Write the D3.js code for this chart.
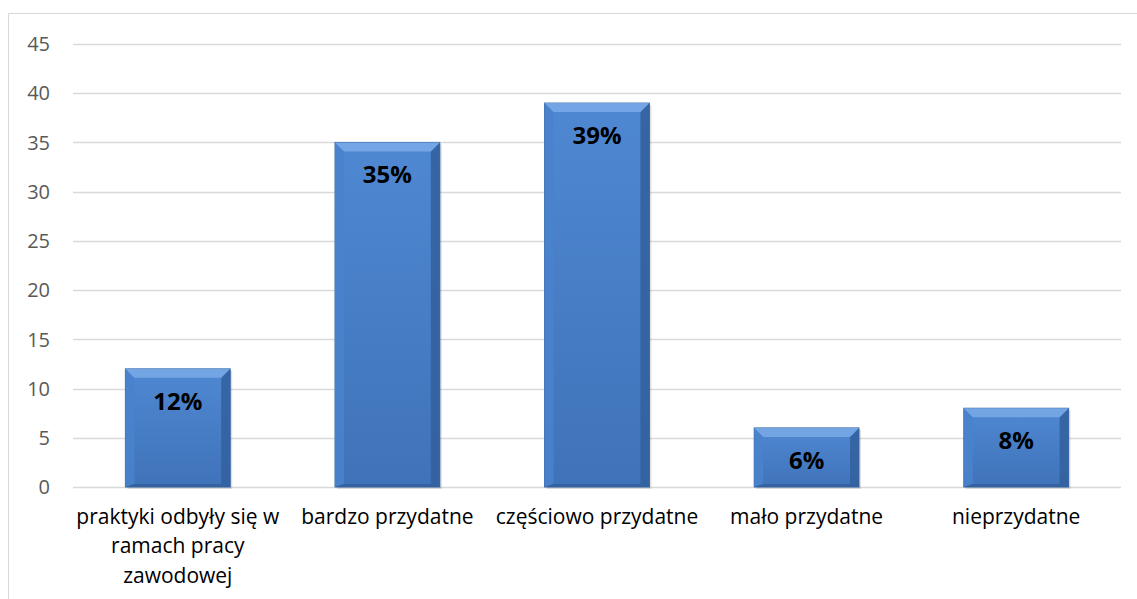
<!DOCTYPE html>
<html>
<head>
<meta charset="utf-8">
<script src="https://cdn.jsdelivr.net/npm/d3@7"></script>
<style>
  body { margin: 0; background: #fff; }
  svg { display: block; }
  text { font-family: "Open Sans", sans-serif; }
</style>
</head>
<body>
<svg id="chart" width="1137" height="599"></svg>
<script>
const categories = [
    'praktyki odbyły się w ramach pracy zawodowej',
    'bardzo przydatne',
    'częściowo przydatne',
    'mało przydatne',
    'nieprzydatne'
];
const values = [12, 35, 39, 6, 8];
const barLabels = ['12%', '35%', '39%', '6%', '8%'];
const yTicks = [0, 5, 10, 15, 20, 25, 30, 35, 40, 45];

const svg = d3.select('#chart');
const margin = { top: 44, left: 73, right: 16, bottom: 112 };
const width = 1137 - margin.left - margin.right;
const height = 599 - margin.top - margin.bottom;

// chart area border (cut by the window on the right and bottom)
svg.append('path')
    .attr('d', 'M8.5,600 L8.5,13.5 L1140,13.5')
    .attr('fill', 'none')
    .attr('stroke', '#d9d9d9')
    .attr('stroke-width', 1);

const defs = svg.append('defs');
const grad = defs.append('linearGradient')
    .attr('id', 'barFill')
    .attr('x1', 0).attr('y1', 0).attr('x2', 0).attr('y2', 1);
grad.append('stop').attr('offset', '0%').attr('stop-color', '#4f88d2');
grad.append('stop').attr('offset', '100%').attr('stop-color', '#3f73b9');

const g = svg.append('g')
    .attr('transform', `translate(${margin.left},${margin.top})`);

let x = d3.scaleBand()
    .domain(categories)
    .range([0, width])
    .paddingInner(0.5)
    .paddingOuter(0.25);

let y = d3.scaleLinear()
    .domain([0, 45])
    .range([height, 0]);

// gridlines
g.append('g')
    .selectAll('line')
    .data(yTicks)
    .enter()
    .append('line')
        .attr('x1', 0)
        .attr('x2', width)
        .attr('y1', d => Math.round(y(d)) + 0.5)
        .attr('y2', d => Math.round(y(d)) + 0.5)
        .attr('stroke', '#d9d9d9')
        .attr('stroke-width', 1.3);

// y axis labels
g.append('g')
    .selectAll('text')
    .data(yTicks)
    .enter()
    .append('text')
        .attr('x', -23)
        .attr('y', d => y(d))
        .attr('dy', '0.36em')
        .attr('text-anchor', 'end')
        .attr('font-size', '20px')
        .attr('fill', '#595959')
        .text(d => d);

// bars
const bev = 9;
let bars = g.append('g')
    .selectAll('g')
    .data(values)
    .enter()
    .append('g');

bars.append('rect')
    .attr('x', (d, i) => x(categories[i]) + 2)
    .attr('y', d => y(d) + 2)
    .attr('width', x.bandwidth())
    .attr('height', d => y(0) - y(d))
    .attr('fill', '#000')
    .attr('opacity', 0.12);

bars.append('rect')
    .attr('x', (d, i) => x(categories[i]))
    .attr('y', d => y(d))
    .attr('width', x.bandwidth())
    .attr('height', d => y(0) - y(d))
    .attr('fill', 'url(#barFill)')
    .attr('stroke', '#3a6aab')
    .attr('stroke-width', 1);

// bevel: top, left, right, bottom
function bevelPath(d, i, side) {
    let x0 = x(categories[i]), x1 = x0 + x.bandwidth();
    let y0 = y(d), y1 = y(0);
    if (side == 'top') return `M${x0},${y0}L${x1},${y0}L${x1 - bev},${y0 + bev}L${x0 + bev},${y0 + bev}Z`;
    if (side == 'left') return `M${x0},${y0}L${x0 + bev},${y0 + bev}L${x0 + bev},${y1 - 3}L${x0},${y1}Z`;
    if (side == 'right') return `M${x1},${y0}L${x1 - bev},${y0 + bev}L${x1 - bev},${y1 - 3}L${x1},${y1}Z`;
    return `M${x0},${y1}L${x0 + bev},${y1 - 3}L${x1 - bev},${y1 - 3}L${x1},${y1}Z`;
}
const bevelFill = { top: '#78a9e6', left: '#4a82cc', right: '#34629f', bottom: '#33609c' };
['left', 'right', 'bottom', 'top'].forEach(side => {
    bars.append('path')
        .attr('d', (d, i) => bevelPath(d, i, side))
        .attr('fill', bevelFill[side])
        .attr('opacity', 0.9);
});

// value labels
bars.append('text')
    .attr('x', (d, i) => x(categories[i]) + x.bandwidth() / 2)
    .attr('y', d => y(d) + 41)
    .attr('text-anchor', 'middle')
    .attr('font-size', '24px')
    .attr('font-weight', 'bold')
    .attr('fill', '#000')
    .text((d, i) => barLabels[i]);

// category labels
let labels = g.append('g')
    .selectAll('text')
    .data(categories)
    .enter()
    .append('text')
        .attr('x', d => x(d) + x.bandwidth() / 2)
        .attr('y', height + 37)
        .attr('text-anchor', 'middle')
        .attr('font-size', '21px')
        .attr('fill', '#000')
        .text(d => d);

labels.each(function(d) {
    wrap(d3.select(this), 212);
});

function wrap(text, maxWidth) {
    let words = text.text().split(' ');
    let xPos = text.attr('x');
    let line = [];
    text.text(null);
    let tspan = text.append('tspan').attr('x', xPos).attr('dy', 0);
    words.forEach(word => {
        line.push(word);
        tspan.text(line.join(' '));
        if (tspan.node().getComputedTextLength() > maxWidth && line.length > 1) {
            line.pop();
            tspan.text(line.join(' '));
            line = [word];
            tspan = text.append('tspan').attr('x', xPos).attr('dy', '1.4em').text(word);
        }
    });
}
</script>
</body>
</html>
